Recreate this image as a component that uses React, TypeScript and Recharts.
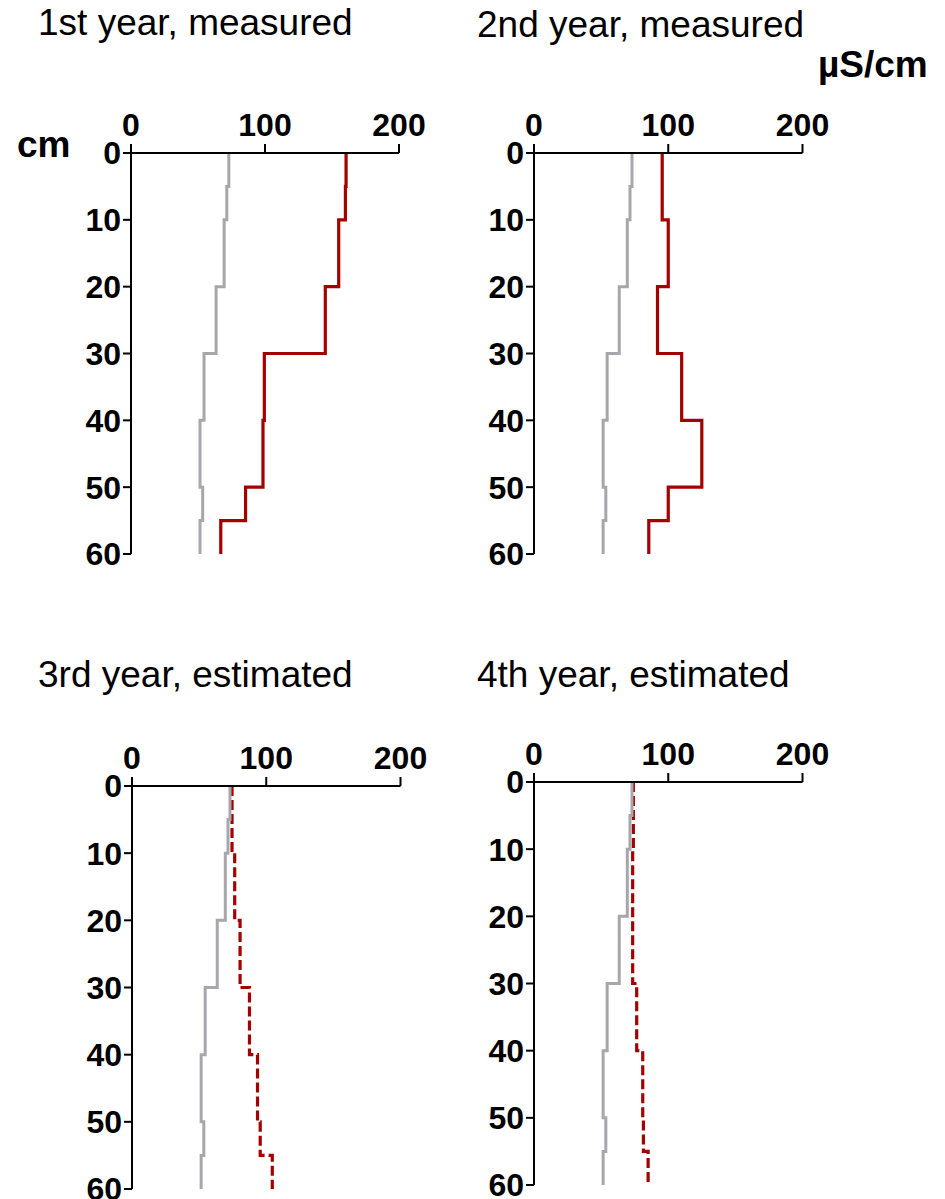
import React from "react";
import { LineChart, Line, XAxis, YAxis } from "recharts";

// layer boundaries (cm) and EC per layer (µS/cm)
const depthBounds = [0, 5, 10, 20, 30, 40, 50, 55, 60];
const initialEC = [73, 71.5, 69.5, 63.5, 54.5, 51.5, 53.5, 51.5];
const year1EC = [160.5, 160, 155, 145, 99.5, 98.5, 85.5, 67];
const year2EC = [95.5, 95.5, 100, 92, 110, 125, 100, 85.5];
const year3EC = [74.5, 74.5, 76.5, 80.5, 87.5, 93.5, 95.5, 104.5];
const year4EC = [74, 74, 73.5, 73.5, 76.5, 81, 81.5, 85];

const ecTicks = [0, 100, 200];
const depthTicks = [0, 10, 20, 30, 40, 50, 60];
const titles = ["1st year, measured", "2nd year, measured", "3rd year, estimated", "4th year, estimated"];

const FONT = "'Liberation Sans', Arial, Helvetica, sans-serif";
const RED = "#a30000";
const GRAY = "#a7a7ab";

// step profile: two points per layer so the line runs flat across each layer
function stepRows(current: number[]) {
  const rows: { depth: number; initial: number; current: number }[] = [];
  for (let i = 0; i < depthBounds.length - 1; i++) {
    rows.push({ depth: depthBounds[i], initial: initialEC[i], current: current[i] });
    rows.push({ depth: depthBounds[i + 1], initial: initialEC[i], current: current[i] });
  }
  return rows;
}

const panels = [
  { values: year1EC, dashed: false, left: 131, top: 153, w: 268, h: 401 },
  { values: year2EC, dashed: false, left: 534, top: 153, w: 268.5, h: 401 },
  { values: year3EC, dashed: true, left: 131.5, top: 786, w: 268.5, h: 403 },
  { values: year4EC, dashed: true, left: 534, top: 782, w: 268.5, h: 403 },
];

const titlePos = [
  { x: 38, y: 35 },
  { x: 477, y: 37 },
  { x: 38, y: 687 },
  { x: 477, y: 687 },
];

const tickStyle = { fill: "#000", fontSize: 32, fontWeight: 700, fontFamily: FONT };

function Panel({ p }: { p: (typeof panels)[number] }) {
  const chartLeft = p.left - 131;
  const chartTop = p.top - 100;
  return (
    <div style={{ position: "absolute", left: chartLeft, top: chartTop }}>
      <LineChart
        width={131 + p.w + 45}
        height={100 + p.h + 30}
        layout="vertical"
        data={stepRows(p.values)}
        margin={{ top: 50, right: 45, bottom: 30, left: 71 }}
      >
        <XAxis
          type="number"
          orientation="top"
          domain={[0, 200]}
          ticks={ecTicks}
          height={50}
          tickSize={9}
          tickMargin={8}
          axisLine={{ stroke: "#000", strokeWidth: 2 }}
          tickLine={{ stroke: "#000", strokeWidth: 2 }}
          tick={tickStyle}
        />
        <YAxis
          type="number"
          dataKey="depth"
          domain={[0, 60]}
          ticks={depthTicks}
          interval={0}
          width={60}
          tickSize={8}
          tickMargin={2}
          axisLine={{ stroke: "#000", strokeWidth: 2 }}
          tickLine={{ stroke: "#000", strokeWidth: 2 }}
          tick={tickStyle}
        />
        <Line
          type="linear"
          dataKey="current"
          stroke={RED}
          strokeWidth={3.2}
          strokeDasharray={p.dashed ? "10 4" : undefined}
          dot={false}
          isAnimationActive={false}
        />
        <Line
          type="linear"
          dataKey="initial"
          stroke={GRAY}
          strokeWidth={3}
          dot={false}
          isAnimationActive={false}
        />
      </LineChart>
    </div>
  );
}

export default function App() {
  return (
    <div style={{ position: "fixed", left: 0, top: 0, width: 945, height: 1199, background: "#fff", overflow: "hidden" }}>
      {panels.map((p, i) => (
        <Panel key={i} p={p} />
      ))}
      <svg width={945} height={1199} style={{ position: "absolute", left: 0, top: 0, pointerEvents: "none" }}>
        {titles.map((t, i) => (
          <text key={t} x={titlePos[i].x} y={titlePos[i].y} fontFamily={FONT} fontSize={37} fill="#000">
            {t}
          </text>
        ))}
        <text x={17} y={157} fontFamily={FONT} fontSize={37} fontWeight={700} fill="#000">
          cm
        </text>
        <text x={818} y={77} fontFamily={FONT} fontSize={37} fontWeight={700} fill="#000">
          µS/cm
        </text>
      </svg>
    </div>
  );
}
